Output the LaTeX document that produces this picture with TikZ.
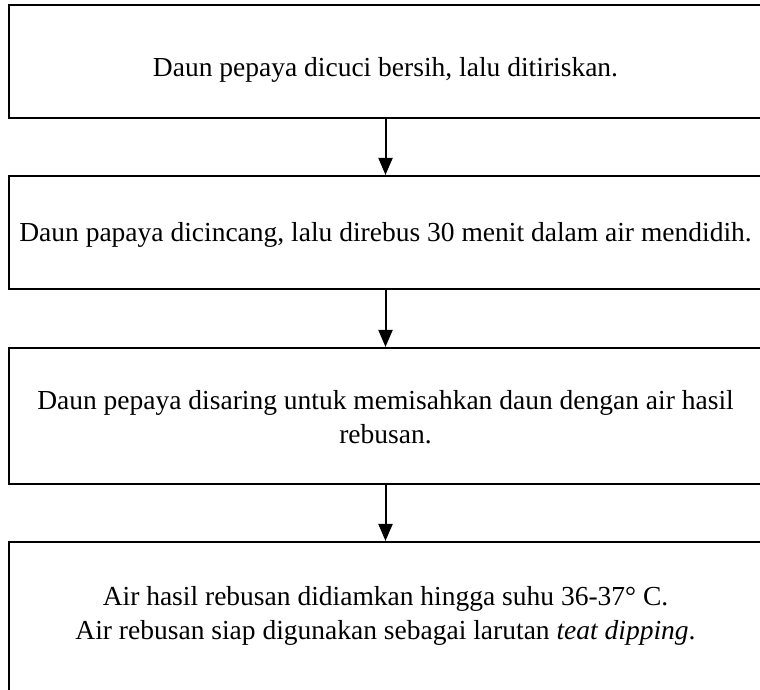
\documentclass[tikz,border=0pt]{standalone}
\usepackage{fontspec}
\setmainfont{Liberation Serif}
\usetikzlibrary{arrows.meta}
\begin{document}
\begin{tikzpicture}[x=1pt,y=1pt,
  stepbox/.style={draw=black,line width=2.1pt,rectangle,minimum width=753pt,inner sep=0pt},
  steptext/.style={inner sep=0pt,align=center,font=\fontsize{27.5}{34}\selectfont},
  flow/.style={draw=black,line width=2pt,-{Triangle[length=17pt,width=14pt]}}]
\useasboundingbox (0,0) rectangle (760,690);
\node[stepbox,minimum height=113pt] (b1) at (385.5,628.5) {};
\node[stepbox,minimum height=113pt] (b2) at (385.5,457.5) {};
\node[stepbox,minimum height=136pt] (b3) at (385.5,274) {};
\node[stepbox,minimum height=151pt] (b4) at (385.5,72.5) {};
\node[steptext] (t1) at (385.5,620.5) {Daun pepaya dicuci bersih, lalu ditiriskan.};
\node[steptext] (t2) at (385.5,455.5) {Daun papaya dicincang, lalu direbus 30 menit dalam air mendidih.};
\node[steptext] (t3) at (385.5,273) {Daun pepaya disaring untuk memisahkan daun dengan air hasil\\rebusan.};
\node[steptext] (t4) at (385.5,74.5) {Air hasil rebusan didiamkan hingga suhu 36-37° C.\\Air rebusan siap digunakan sebagai larutan \textit{teat dipping}.};
\draw[flow] (b1.south) -- (b2.north);
\draw[flow] (b2.south) -- (b3.north);
\draw[flow] (b3.south) -- (b4.north);
\end{tikzpicture}
\end{document}
